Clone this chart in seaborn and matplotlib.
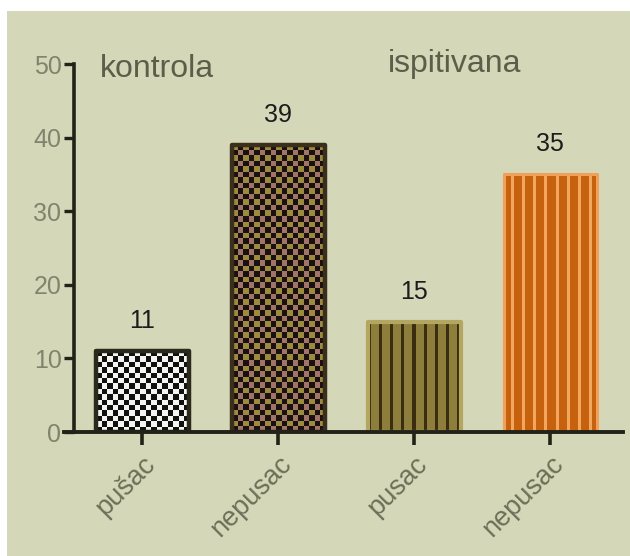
import numpy as np
import pandas as pd
import matplotlib
matplotlib.use("Agg")
import matplotlib.pyplot as plt
import seaborn as sns
from matplotlib.patches import Rectangle

# ---- data ----
groups = ["kontrola", "kontrola", "ispitivana", "ispitivana"]
status = ["pušac", "nepusac", "pusac", "nepusac"]
counts = [11, 39, 15, 35]
group_titles = ["kontrola", "ispitivana"]
yticks = [0, 10, 20, 30, 40, 50]

BG = "#d5d7b9"

sns.set_theme(style="ticks")
plt.rcParams["font.family"] = ["Liberation Sans", "DejaVu Sans"]

df = pd.DataFrame({"bar": [f"{g}|{s}" for g, s in zip(groups, status)], "n": counts})

fig = plt.figure(figsize=(6.3, 5.56), dpi=100, facecolor="white")
bg = Rectangle((7 / 630, 0), 1, (556 - 11) / 556, transform=fig.transFigure,
               facecolor=BG, edgecolor="none", zorder=-10)
fig.patches.append(bg)
ax = fig.add_axes([64 / 630, 124 / 556, 559 / 630, 368 / 556])
ax.set_facecolor("none")
ax.set_zorder(1)

sns.barplot(data=df, x="bar", y="n", order=list(df["bar"]), width=0.684, ax=ax,
            color="grey", errorbar=None)

XLIM = (-0.575, 3.535)
ax.set_xlim(*XLIM)
ax.set_ylim(0, 50)
ax.set_yticks(yticks)
ax.set_xlabel("")
ax.set_ylabel("")

# ---- textures ----
styles = [
    dict(kind="checker", c1="#111111", c2="#f4f4f0", c3="#f4f4f0", edge="#2a291c", lw=3.2),
    dict(kind="checker", c1="#1a1010", c2="#a07468", c3="#9c8a3e", edge="#3a2f1c", lw=3.2),
    dict(kind="stripe", base="#8d7f3b", line="#3a2d10", edge="#b3a660", lw=3.0, off=11),
    dict(kind="stripe", base="#c6610e", line="#f3a75e", edge="#f0a058", lw=2.2, off=7),
]

fig.canvas.draw()
for patch, st in zip(ax.patches, styles):
    x0, y0, w, h = patch.get_x(), patch.get_y(), patch.get_width(), patch.get_height()
    (px0, py0) = ax.transData.transform((x0, y0))
    (px1, py1) = ax.transData.transform((x0 + w, y0 + h))
    wpx, hpx = abs(px1 - px0), abs(py1 - py0)
    if st["kind"] == "checker":
        cell = 5.5
        nc = max(1, int(round(wpx / cell)))
        nr = max(1, int(round(hpx / cell)))
        c1 = np.array(matplotlib.colors.to_rgb(st["c1"]))
        c2 = np.array(matplotlib.colors.to_rgb(st["c2"]))
        c3 = np.array(matplotlib.colors.to_rgb(st["c3"]))
        img = np.zeros((nr, nc, 3))
        for r in range(nr):
            for c in range(nc):
                if (r + c) % 2 == 0:
                    img[r, c] = c1
                else:
                    img[r, c] = c2 if r % 2 == 0 else c3
    else:
        period = 11.0
        n = int(round(wpx))
        base = np.array(matplotlib.colors.to_rgb(st["base"]))
        line = np.array(matplotlib.colors.to_rgb(st["line"]))
        img = np.zeros((1, n, 3))
        for c in range(n):
            img[0, c] = line if ((c - st["off"]) % period) < 2.8 else base
    ext = (x0, x0 + w, y0, y0 + h)
    im = ax.imshow(img, extent=ext, aspect="auto", interpolation="nearest",
                   origin="lower", zorder=1.5)
    im.set_clip_path(patch)
    patch.set_facecolor("none")
    patch.set_edgecolor(st["edge"])
    patch.set_linewidth(st["lw"])
    patch.set_joinstyle("round")
    patch.set_zorder(2)

ax.set_xlim(*XLIM)
ax.set_ylim(0, 50)

# ---- value labels ----
ax.bar_label(ax.containers[0], labels=[str(v) for v in counts], padding=13,
             fontsize=18, color="#1c1c1c")

# ---- group titles ----
ax.text(0.11, 48.3, group_titles[0], fontsize=23, ha="center", va="baseline",
        color="#5d5d4a")
ax.text(2.30, 48.9, group_titles[1], fontsize=23, ha="center", va="baseline",
        color="#5d5d4a")

# ---- axes styling ----
sns.despine(ax=ax)
spine_col = "#222218"
ax.spines["left"].set_position(("axes", 10 / 559))
ax.spines["left"].set_linewidth(2.6)
ax.spines["bottom"].set_linewidth(2.8)
ax.spines["left"].set_color(spine_col)
ax.spines["bottom"].set_color(spine_col)
ax.spines["left"].set_zorder(3)
ax.spines["bottom"].set_zorder(3)

ax.tick_params(axis="y", length=7, width=2.4, color=spine_col, labelsize=18,
               labelcolor="#82836d", pad=2)
ax.tick_params(axis="x", length=9, width=2.6, color=spine_col, labelsize=19.5,
               labelcolor="#6e6f58", pad=5)
ax.set_xticks(range(len(status)))
ax.set_xticklabels(status, rotation=45, ha="right", rotation_mode="anchor")

fig.savefig("out.png", dpi=100, facecolor="white")
